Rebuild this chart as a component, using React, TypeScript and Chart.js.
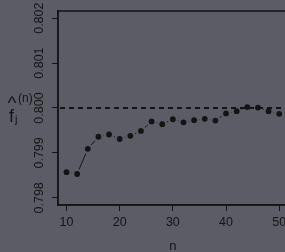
import React, { useEffect, useRef } from "react";
import { Chart, registerables } from "chart.js";

Chart.register(...registerables);

// ---- data ----
const nValues = [10, 12, 14, 16, 18, 20, 22, 24, 26, 28, 30, 32, 34, 36, 38, 40, 42, 44, 46, 48, 50];
const fValues = [
  0.79857, 0.79853, 0.79909, 0.79936, 0.79941, 0.79931, 0.79938, 0.79949, 0.7997, 0.79964,
  0.79975, 0.79968, 0.79973, 0.79976, 0.79972, 0.79988, 0.79993, 0.80002, 0.80001, 0.79993,
  0.79987,
];
const referenceValue = 0.8;
const xTicks = [10, 20, 30, 40, 50];
const yTicks = [0.798, 0.799, 0.8, 0.801, 0.802];
const xRange = [8.4, 51.6];
const yRange = [0.79784, 0.80216];

const BG = "#5c5c67";
const INK = "#141414";
const FONT = "'Liberation Sans', Arial, sans-serif";

const overlayPlugin = {
  id: "overlay",
  beforeDatasetsDraw(chart: any) {
    const { ctx, chartArea, scales } = chart;
    const xs = scales.x;
    const ys = scales.y;
    ctx.save();
    // dashed reference line
    ctx.strokeStyle = INK;
    ctx.lineWidth = 1.8;
    ctx.setLineDash([5, 4]);
    const yr = ys.getPixelForValue(referenceValue);
    ctx.beginPath();
    ctx.moveTo(chartArea.left + 2, yr);
    ctx.lineTo(chartArea.right, yr);
    ctx.stroke();
    ctx.setLineDash([]);
    // type "b" connecting segments with gaps around points
    const gap = 5.2;
    ctx.lineWidth = 1;
    for (let i = 0; i < nValues.length - 1; i++) {
      const x1 = xs.getPixelForValue(nValues[i]);
      const y1 = ys.getPixelForValue(fValues[i]);
      const x2 = xs.getPixelForValue(nValues[i + 1]);
      const y2 = ys.getPixelForValue(fValues[i + 1]);
      const d = Math.hypot(x2 - x1, y2 - y1);
      if (d <= 2 * gap) continue;
      const ux = (x2 - x1) / d;
      const uy = (y2 - y1) / d;
      ctx.beginPath();
      ctx.moveTo(x1 + ux * gap, y1 + uy * gap);
      ctx.lineTo(x2 - ux * gap, y2 - uy * gap);
      ctx.stroke();
    }
    ctx.restore();
  },
  afterDraw(chart: any) {
    const { ctx, chartArea } = chart;
    ctx.save();
    // box
    ctx.strokeStyle = INK;
    ctx.lineWidth = 1.5;
    ctx.strokeRect(chartArea.left, chartArea.top, chartArea.right - chartArea.left, chartArea.bottom - chartArea.top);
    // y-axis label: f-hat sub j super (n)
    ctx.fillStyle = INK;
    ctx.textBaseline = "alphabetic";
    ctx.textAlign = "left";
    ctx.font = `18px ${FONT}`;
    ctx.fillText("f", 9, 122);
    ctx.font = `19px ${FONT}`;
    ctx.fillText("^", 7.5, 109);
    ctx.font = `11px ${FONT}`;
    ctx.fillText("j", 15, 123);
    ctx.font = `12px ${FONT}`;
    ctx.fillText("(n)", 18, 102);
    ctx.restore();
  },
};

export default function App() {
  const ref = useRef<HTMLCanvasElement | null>(null);
  useEffect(() => {
    document.body.style.margin = "0";
    document.body.style.background = BG;
    const canvas = ref.current!;
    const tickFont = { family: FONT, size: 12.5 };
    const chart = new Chart(canvas, {
      type: "scatter",
      data: {
        datasets: [
          {
            data: nValues.map((n, i) => ({ x: n, y: fValues[i] })),
            pointRadius: 2.9,
            pointHoverRadius: 2.9,
            backgroundColor: INK,
            borderWidth: 0,
            showLine: false,
          },
        ],
      },
      options: {
        animation: false,
        responsive: false,
        events: [],
        layout: { padding: { left: 0, top: 11, right: 12.3, bottom: 0 } },
        plugins: { legend: { display: false }, tooltip: { enabled: false } },
        scales: {
          x: {
            type: "linear",
            min: xRange[0],
            max: xRange[1],
            afterBuildTicks: (s: any) => {
              s.ticks = xTicks.map((v) => ({ value: v }));
            },
            afterFit: (s: any) => {
              s.height = 47;
            },
            grid: { drawOnChartArea: false, drawTicks: true, tickLength: 6, color: INK, lineWidth: 1 },
            border: { display: true, color: INK, width: 1.5 },
            ticks: { color: INK, font: tickFont, padding: 4, maxRotation: 0, autoSkip: false },
            title: { display: true, text: "n", color: INK, font: { family: FONT, size: 13 }, padding: { top: 4, bottom: -2 } },
          },
          y: {
            type: "linear",
            min: yRange[0],
            max: yRange[1],
            afterBuildTicks: (s: any) => {
              s.ticks = yTicks.map((v) => ({ value: v }));
            },
            afterFit: (s: any) => {
              s.width = 58;
            },
            grid: { drawOnChartArea: false, drawTicks: true, tickLength: 6, color: INK, lineWidth: 1 },
            border: { display: true, color: INK, width: 1.5 },
            ticks: {
              color: INK,
              font: tickFont,
              minRotation: 90,
              maxRotation: 90,
              crossAlign: "center",
              padding: -3.2,
              autoSkip: false,
              callback: (v: any) => Number(v).toFixed(3),
            },
          },
        },
      },
      plugins: [overlayPlugin],
    } as any);
    return () => chart.destroy();
  }, []);
  return (
    <div style={{ position: "fixed", left: 0, top: 0, width: 285, height: 252, overflow: "hidden", background: BG }}>
      <canvas ref={ref} width={300} height={252} style={{ display: "block" }} />
    </div>
  );
}
